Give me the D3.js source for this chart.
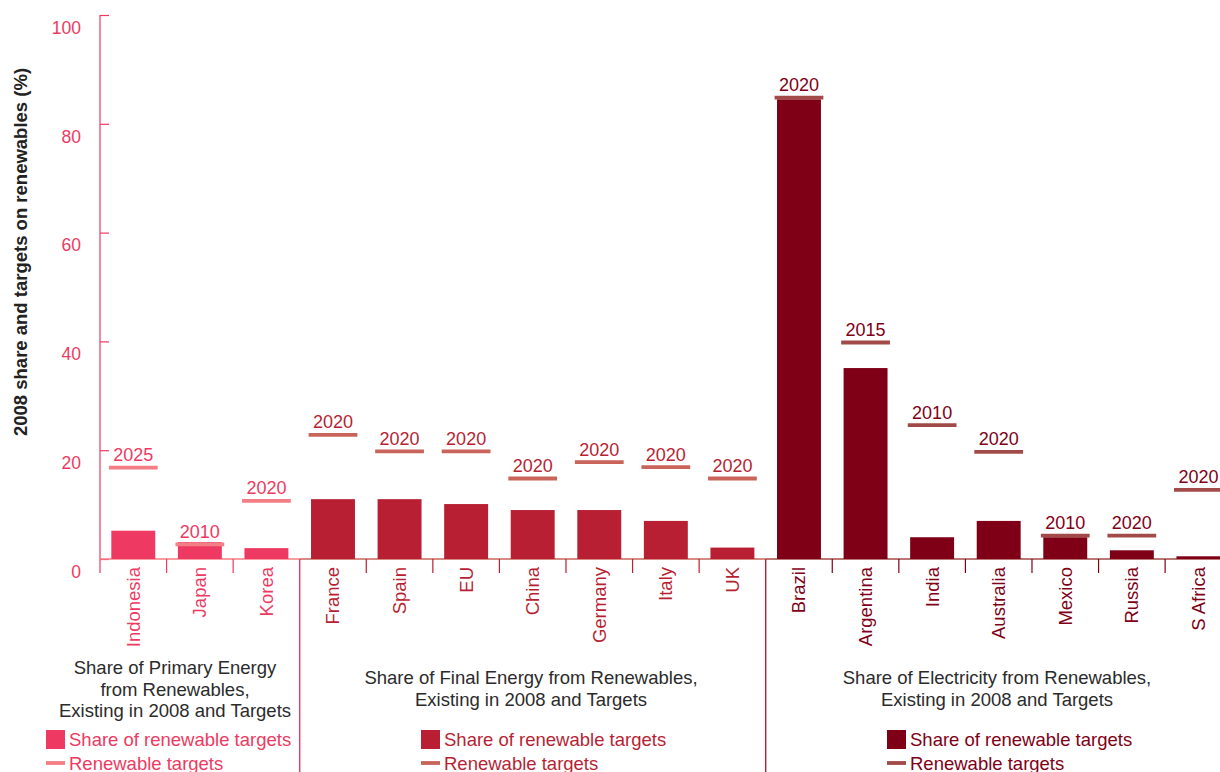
<!DOCTYPE html>
<html>
<head>
<meta charset="utf-8">
<script src="https://cdn.jsdelivr.net/npm/d3@7/dist/d3.min.js"></script>
<style>
  html, body { margin: 0; padding: 0; background: #fff; overflow: hidden; }
  svg { display: block; font-family: "Liberation Sans", Arial, Helvetica, sans-serif; }
</style>
</head>
<body>
<svg id="chart" width="1220" height="772"></svg>
<script>
// Countries in drawing order
const categories = ["Indonesia", "Japan", "Korea",
  "France", "Spain", "EU", "China", "Germany", "Italy", "UK",
  "Brazil", "Argentina", "India", "Australia", "Mexico", "Russia", "S Africa"];
// Which measure each country belongs to (0 primary, 1 final, 2 electricity)
const groupOf = [0, 0, 0, 1, 1, 1, 1, 1, 1, 1, 2, 2, 2, 2, 2, 2, 2];
// 2008 share on renewables (%)
const shares = [5.2, 3.1, 2.0, 11.0, 11.0, 10.1, 9.0, 9.0, 7.0, 2.1,
  84.5, 35.1, 4.0, 7.0, 4.0, 1.6, 0.5];
// Renewable target (%)
const targets = [16.8, 2.7, 10.7, 22.8, 19.8, 19.8, 14.8, 17.8, 16.9, 14.8,
  84.8, 39.8, 24.6, 19.7, 4.3, 4.3, 12.7];
// Target year shown above each target mark
const targetYears = ["2025", "2010", "2020", "2020", "2020", "2020", "2020", "2020", "2020", "2020",
  "2020", "2015", "2010", "2020", "2010", "2020", "2020"];
// Y axis ticks
const yTicks = [0, 20, 40, 60, 80, 100];
// Group captions, one entry per line
const groupTitles = [
  ["Share of Primary Energy", "from Renewables,", "Existing in 2008 and Targets"],
  ["Share of Final Energy from Renewables,", "Existing in 2008 and Targets"],
  ["Share of Electricity from Renewables,", "Existing in 2008 and Targets"]
];
const legendLabels = ["Share of renewable targets", "Renewable targets"];

// Styling per group
const barColor = ["#ee3a62", "#b81f33", "#7f0016"];
const markColor = ["#f47e85", "#c9645a", "#a24a47"];
const axisColor = "#ee3a62";
const fs = 18.5;

const svg = d3.select("#chart");
const plotLeft = 100, step = 66.57, base = 559, plotTop = 15;

const x = d3.scaleBand()
  .domain(categories)
  .range([plotLeft, plotLeft + step * categories.length])
  .paddingInner(0.34)
  .paddingOuter(0.17);

const y = d3.scaleLinear().domain([0, 100]).range([base, plotTop]);

// Y axis
const yAxis = d3.axisLeft(y).tickValues(yTicks).tickSizeInner(-9).tickSizeOuter(0).tickPadding(19);
const gy = svg.append("g").attr("transform", `translate(${plotLeft},0)`).call(yAxis);
gy.select(".domain").remove();
gy.selectAll(".tick line").attr("stroke", axisColor).attr("stroke-width", 1.2);
gy.selectAll(".tick text")
  .attr("fill", axisColor)
  .attr("font-size", 17.5)
  .attr("font-family", "Liberation Sans, Arial, sans-serif")
  .attr("dy", "1.05em");
svg.append("line")
  .attr("x1", plotLeft).attr("x2", plotLeft)
  .attr("y1", y(100)).attr("y2", base + 14)
  .attr("stroke", axisColor).attr("stroke-width", 1.2);

// Y axis title
svg.append("text")
  .attr("transform", `translate(27,252) rotate(-90)`)
  .attr("text-anchor", "middle")
  .attr("font-size", 18.5)
  .attr("font-weight", "bold")
  .attr("fill", "#222")
  .text("2008 share and targets on renewables (%)");

// Group extents along x
const groupIdx = [0, 1, 2];
const groupStart = g => x(categories[groupOf.indexOf(g)]) - x.step() * 0.17;
const groupEnd = g => x(categories[groupOf.lastIndexOf(g)]) + x.bandwidth() + x.step() * 0.17;

// Baseline per group
groupIdx.forEach(g => {
  svg.append("line")
    .attr("x1", groupStart(g)).attr("x2", groupEnd(g))
    .attr("y1", base).attr("y2", base)
    .attr("stroke", markColor[g]).attr("stroke-width", 1.6);
});

// Category ticks below the baseline; group boundaries run to the bottom
categories.forEach((c, i) => {
  if (i === 0) return;
  const bx = x(c) - x.step() * 0.17;
  const g = groupOf[i - 1];
  const sep = groupOf[i] !== groupOf[i - 1];
  svg.append("line")
    .attr("x1", bx).attr("x2", bx)
    .attr("y1", base).attr("y2", sep ? 772 : base + 14)
    .attr("stroke", sep ? barColor[g] : barColor[groupOf[i]])
    .attr("stroke-width", sep ? 1.4 : 1.2);
});

// Bars
svg.append("g").selectAll("rect")
  .data(categories)
  .join("rect")
  .attr("x", d => x(d))
  .attr("width", x.bandwidth())
  .attr("y", (d, i) => y(shares[i]))
  .attr("height", (d, i) => base - y(shares[i]))
  .attr("fill", (d, i) => barColor[groupOf[i]]);

// Target marks
const ext = x.bandwidth() * 0.055;
svg.append("g").selectAll("line")
  .data(categories)
  .join("line")
  .attr("x1", d => x(d) - ext)
  .attr("x2", d => x(d) + x.bandwidth() + ext)
  .attr("y1", (d, i) => y(targets[i]))
  .attr("y2", (d, i) => y(targets[i]))
  .attr("stroke", (d, i) => markColor[groupOf[i]])
  .attr("stroke-width", 3.8);

// Target year labels
svg.append("g").selectAll("text")
  .data(categories)
  .join("text")
  .attr("x", d => x(d) + x.bandwidth() / 2)
  .attr("y", (d, i) => y(targets[i]) - 6.5)
  .attr("text-anchor", "middle")
  .attr("font-size", 18)
  .attr("fill", (d, i) => barColor[groupOf[i]])
  .text((d, i) => targetYears[i]);

// Country names
svg.append("g").selectAll("text")
  .data(categories)
  .join("text")
  .attr("transform", d => `translate(${x(d) + x.bandwidth() / 2},567) rotate(-90)`)
  .attr("text-anchor", "end")
  .attr("dy", "0.35em")
  .attr("font-size", fs)
  .attr("fill", (d, i) => barColor[groupOf[i]])
  .text(d => d);

// Group captions
const titleX = [175, 531, 997];
const titleY = [674, 684, 684];
groupTitles.forEach((lines, g) => {
  const t = svg.append("text")
    .attr("text-anchor", "middle")
    .attr("font-size", fs)
    .attr("fill", "#2b2b2b");
  lines.forEach((ln, k) => {
    t.append("tspan").attr("x", titleX[g]).attr("y", titleY[g] + k * 21.7).text(ln);
  });
});

// Legends
const legendX = [46, 421, 887];
groupIdx.forEach(g => {
  const lg = svg.append("g").attr("transform", `translate(${legendX[g]},0)`);
  lg.append("rect").attr("x", 0).attr("y", 730).attr("width", 19).attr("height", 19).attr("fill", barColor[g]);
  lg.append("text").attr("x", 23).attr("y", 745.5).attr("font-size", fs).attr("fill", barColor[g]).text(legendLabels[0]);
  lg.append("line").attr("x1", 0).attr("x2", 19).attr("y1", 763).attr("y2", 763)
    .attr("stroke", markColor[g]).attr("stroke-width", 3.8);
  lg.append("text").attr("x", 23).attr("y", 769.5).attr("font-size", fs).attr("fill", barColor[g]).text(legendLabels[1]);
});
</script>
</body>
</html>
